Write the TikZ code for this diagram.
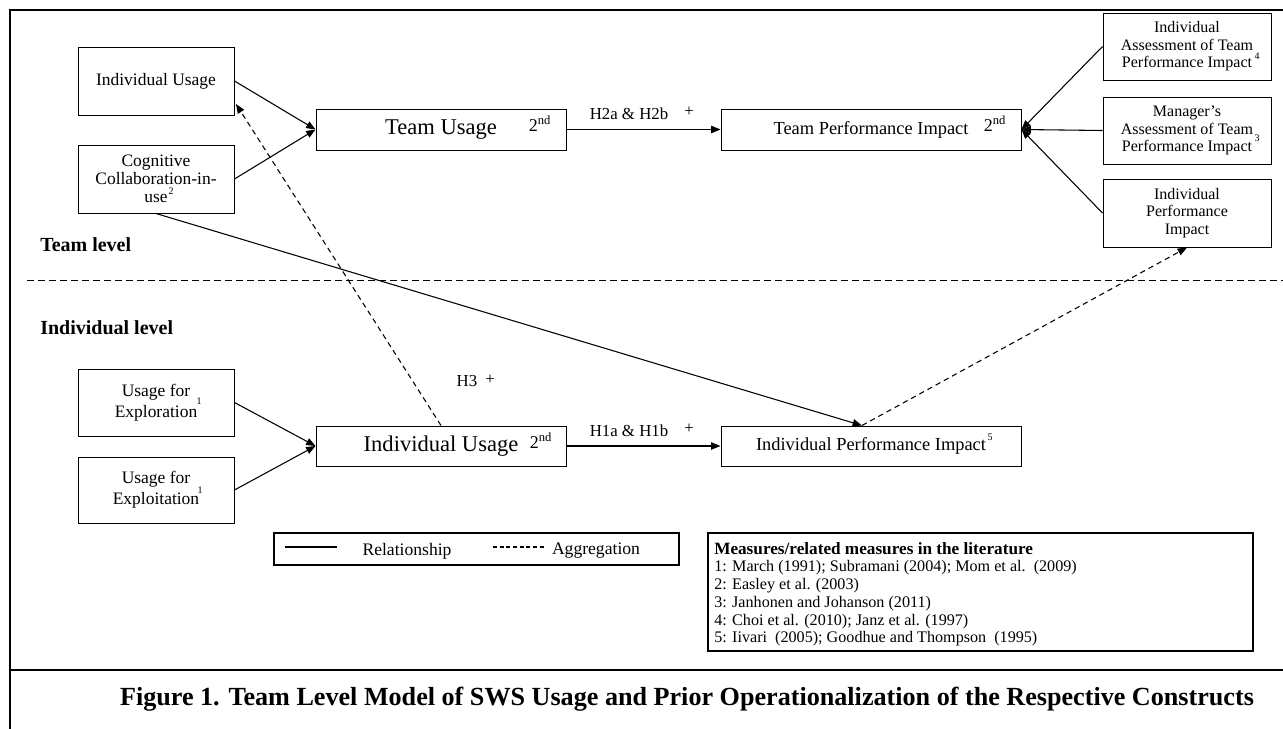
\documentclass[tikz,border=0pt]{standalone}
\usepackage{fontspec}
\setmainfont{Liberation Serif}
\usetikzlibrary{arrows.meta,calc}

% font sizes used in the model
\newcommand\dgSmall{\fontsize{13.1pt}{15.75pt}\selectfont}
\newcommand\dgCog{\fontsize{13.1pt}{13.5pt}\selectfont}
\newcommand\dgRight{\fontsize{12pt}{13.1pt}\selectfont}
\newcommand\dgBig{\fontsize{16.9pt}{18pt}\selectfont}
\newcommand\dgMid{\fontsize{13.8pt}{15pt}\selectfont}
\newcommand\dgOrd{\fontsize{13.5pt}{15pt}\selectfont}
\newcommand\dgHyp{\fontsize{12.6pt}{14pt}\selectfont}
\newcommand\dgLevel{\fontsize{15pt}{16pt}\selectfont\bfseries}
\newcommand\dgLeg{\fontsize{13.2pt}{14pt}\selectfont}
\newcommand\dgMeas{\fontsize{12.1pt}{13pt}\selectfont}
\newcommand\dgMeasT{\fontsize{12.9pt}{14pt}\selectfont\bfseries}
\newcommand\dgCap{\fontsize{19.6pt}{21pt}\selectfont\bfseries}
\newcommand\dgTiny{\fontsize{7.5pt}{8pt}\selectfont}

\begin{document}
\begin{tikzpicture}[x=0.75pt,y=-0.75pt,
  cbox/.style={draw, line width=0.75pt, inner sep=0pt, align=center},
  framebox/.style={draw, line width=1.5pt, inner sep=0pt},
  rel/.style={line width=0.8pt, -{Triangle[length=7pt,width=5.5pt]}},
  agg/.style={line width=0.8pt, dash pattern=on 4pt off 3pt, -{Triangle[length=7pt,width=5.5pt]}},
  supnum/.style={inner sep=0pt, font=\dgTiny},
  ordnum/.style={inner sep=0pt, font=\dgOrd},
  hyp/.style={inner sep=0pt, font=\dgHyp},
  txt/.style={inner sep=0pt},
]
\useasboundingbox (0,0) rectangle (1283,729);

% outer frame and caption rule
\draw[line width=1.5pt] (1283,10) -- (10,10) -- (10,729);
\draw[line width=1.5pt] (10,670) -- (1283,670);

% boundary between the two levels
\draw[line width=0.75pt, dash pattern=on 5.25pt off 3pt] (27,280) -- (1283,280);
\node[txt, anchor=west, font=\dgLevel] (tlev) at (40,245) {Team level};
\node[txt, anchor=west, font=\dgLevel] (ilev) at (40,328) {Individual level};

% team level constructs
\node[cbox, minimum width=117pt, minimum height=51pt, font=\dgSmall] (ind1) at (156,81) {Individual Usage};
\node[cbox, minimum width=117pt, minimum height=51pt, font=\dgCog] (cog) at (156,179) {Cognitive\\Collaboration-in-\\use};
\node[supnum] (cogs) at (171,191) {2};

\node[cbox, minimum width=187.5pt, minimum height=30.75pt, font=\dgBig] (tu) at (441,129.5) {Team Usage};
\node[ordnum] (tuo) at (540,124) {2\textsuperscript{nd}};

\node[cbox, minimum width=225pt, minimum height=30.75pt, font=\dgMid] (tpi) at (871,129.5) {Team Performance Impact};
\node[ordnum] (tpio) at (995,124) {2\textsuperscript{nd}};

\node[cbox, minimum width=126pt, minimum height=50.25pt, font=\dgRight] (ia) at (1187,46.5) {Individual\\Assessment of Team\\Performance Impact};
\node[supnum] (ias) at (1257,56) {4};
\node[cbox, minimum width=126pt, minimum height=50.25pt, font=\dgRight] (ma) at (1187,130.5) {Manager’s\\Assessment of Team\\Performance Impact};
\node[supnum] (mas) at (1257,138) {3};
\node[cbox, minimum width=126pt, minimum height=51pt, font=\dgRight] (ip) at (1187,213) {Individual\\Performance\\Impact};

% individual level constructs
\node[cbox, minimum width=117pt, minimum height=50.25pt, font=\dgSmall] (uexr) at (156,402.5) {Usage for\\Exploration};
\node[supnum] (uexrs) at (199,401) {1};
\node[cbox, minimum width=117pt, minimum height=49.5pt, font=\dgSmall] (uexi) at (156,490) {Usage for\\Exploitation};
\node[supnum] (uexis) at (200,490) {1};

\node[cbox, minimum width=187.5pt, minimum height=30pt, font=\dgBig] (iu) at (441,446) {Individual Usage};
\node[ordnum] (iuo) at (541,441) {2\textsuperscript{nd}};

\node[cbox, minimum width=225pt, minimum height=30pt, font=\dgMid] (ipi) at (871,446) {Individual Performance Impact};
\node[supnum] (ipis) at (990,437) {5};

% relationships
\draw[rel] (ind1.east) -- (tu.west);
\draw[rel] (cog.east) -- (tu.west);
\draw[rel] (tu.east) -- (tpi.west);
\node[hyp] (h2) at (629,114) {H2a \& H2b};
\node[hyp] (h2p) at (689,112) {+};
\draw[rel] (ia.west) -- (tpi.east);
\draw[rel] (ma.west) -- (tpi.east);
\draw[rel] (ip.west) -- (tpi.east);

\draw[rel] (uexr.east) -- (iu.west);
\draw[rel] (uexi.east) -- (iu.west);
\draw[rel] (iu.east) -- (ipi.west);
\node[hyp] (h1) at (629,431) {H1a \& H1b};
\node[hyp] (h1p) at (689,429) {+};

\coordinate (ipitop) at ($(ipi.north west)!0.47!(ipi.north east)$);
\draw[rel] (cog.south) -- (ipitop);
\node[hyp] (h3) at (467,381) {H3};
\node[hyp] (h3p) at (490,380) {+};

% aggregations
\coordinate (aggtip) at (236,104);
\draw[agg] (iu.north) -- (aggtip);
\draw[agg] (ipitop) -- (ip.south);

% legend
\node[framebox, minimum width=303.75pt, minimum height=24pt] (leg) at (476.5,549) {};
\coordinate (lsa) at (285,547);
\coordinate (lsb) at (337,547);
\coordinate (lda) at (493,547);
\coordinate (ldb) at (545,547);
\draw[line width=0.8pt] (lsa) -- (lsb);
\draw[line width=0.8pt, dash pattern=on 3pt off 2pt] (lda) -- (ldb);
\node[txt, font=\dgLeg] (legr) at (407,551) {Relationship};
\node[txt, font=\dgLeg] (lega) at (596,551) {Aggregation};

% sources of the measures
\node[framebox, minimum width=408.75pt, minimum height=88.5pt] (meas) at (980.5,592) {};
\node[txt, anchor=base west, font=\dgMeasT] (m0) at (714,554) {Measures/related measures in the literature};
\node[txt, anchor=base west, font=\dgMeas] (m1) at (714,571) {1: March (1991); Subramani (2004); Mom et al.\ \ (2009)};
\node[txt, anchor=base west, font=\dgMeas] (m2) at (714,589) {2: Easley et al. (2003)};
\node[txt, anchor=base west, font=\dgMeas] (m3) at (714,607) {3: Janhonen and Johanson (2011)};
\node[txt, anchor=base west, font=\dgMeas] (m4) at (714,625) {4: Choi et al. (2010); Janz et al. (1997)};
\node[txt, anchor=base west, font=\dgMeas] (m5) at (714,642) {5: Iivari\ \ (2005); Goodhue and Thompson\ \ (1995)};

% caption
\node[txt, font=\dgCap] (cap) at (687,699) {Figure 1. Team Level Model of SWS Usage and Prior Operationalization of the Respective Constructs};
\end{tikzpicture}
\end{document}
